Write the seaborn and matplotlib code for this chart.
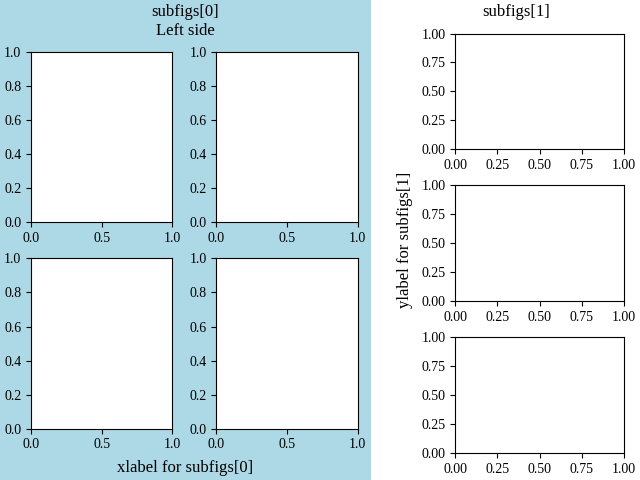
import matplotlib
matplotlib.use("Agg")
import matplotlib.pyplot as plt
import seaborn as sns

# texts of the two subfigures
left_title = "subfigs[0]\nLeft side"
left_xlabel = "xlabel for subfigs[0]"
right_title = "subfigs[1]"
right_ylabel = "ylabel for subfigs[1]"
left_color = "lightblue"

sns.set_theme(style="ticks", rc={
    "axes.edgecolor": "black",
    "axes.labelcolor": "black",
    "text.color": "black",
    "xtick.color": "black",
    "ytick.color": "black",
    "axes.linewidth": 0.8,
    "xtick.major.width": 0.8,
    "ytick.major.width": 0.8,
    "xtick.major.size": 3.5,
    "ytick.major.size": 3.5,
    "font.size": 10,
    "xtick.labelsize": 10,
    "ytick.labelsize": 10,
})
plt.rcParams["font.family"] = ["Liberation Serif", "DejaVu Serif"]

fig = plt.figure(layout="constrained", figsize=(6.4, 4.8), dpi=100)
subfigs = fig.subfigures(1, 2, wspace=0.07, width_ratios=[1.5, 1.0])

axs_left = subfigs[0].subplots(2, 2)
subfigs[0].set_facecolor(left_color)
subfigs[0].suptitle(left_title)
subfigs[0].supxlabel(left_xlabel)

axs_right = subfigs[1].subplots(3, 1)
subfigs[1].suptitle(right_title)
subfigs[1].supylabel(right_ylabel)

for ax in list(axs_left.flat) + list(axs_right.flat):
    ax.set_xlim(0, 1)
    ax.set_ylim(0, 1)
    sns.despine(ax=ax, top=False, right=False)

fig.savefig("out.png", dpi=100)
